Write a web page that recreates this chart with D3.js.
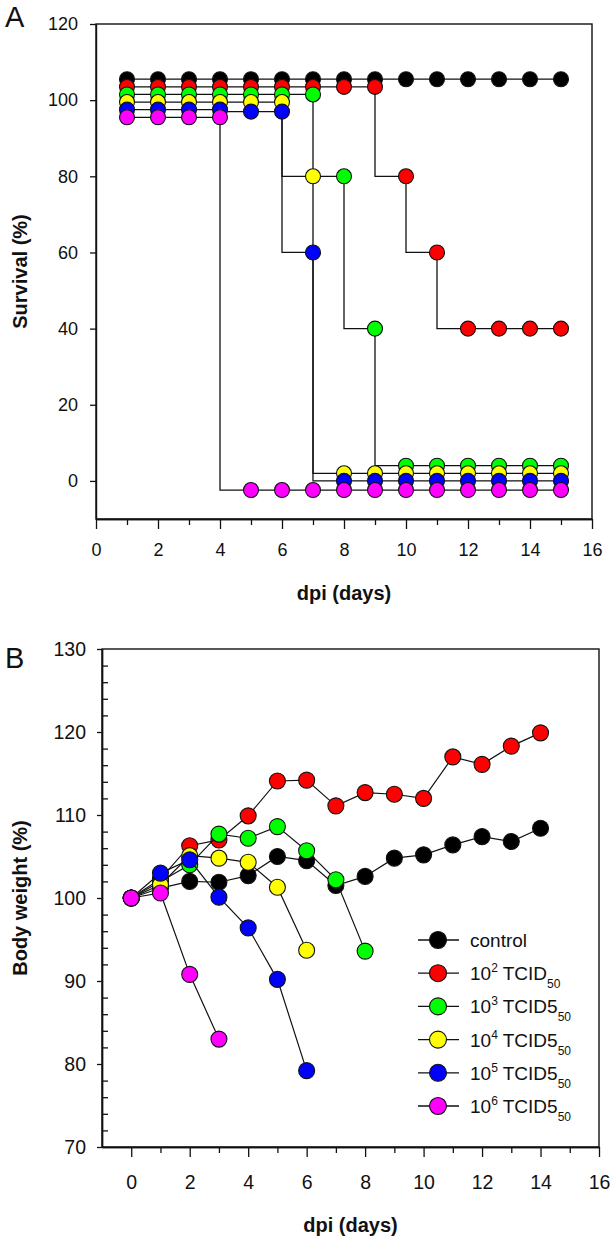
<!DOCTYPE html>
<html><head><meta charset="utf-8">
<script src="https://cdn.jsdelivr.net/npm/d3@7/dist/d3.min.js"></script>
<style>
html,body{margin:0;padding:0;background:#fff;}
svg{display:block;font-family:"Liberation Sans",Arial,sans-serif;}
</style></head>
<body>
<svg id="c" width="612" height="1238"></svg>
<script>
// ---------- data ----------
const seriesNames = ["control","1e2","1e3","1e4","1e5","1e6"];
const seriesColors = ["#000000","#ff0000","#00ff00","#ffff00","#0000ff","#ff00ff"];

// Panel A: survival (%) as plotted (curves vertically offset in the original figure)
const survDays = [1,2,3,4,5,6,7,8,9,10,11,12,13,14,15];
const survControl = [105.5,105.5,105.5,105.5,105.5,105.5,105.5,105.5,105.5,105.5,105.5,105.5,105.5,105.5,105.5];
const surv1e2 = [103.5,103.5,103.5,103.5,103.5,103.5,103.5,103.5,103.5,80,60,40,40,40,40];
const surv1e3 = [101.5,101.5,101.5,101.5,101.5,101.5,101.5,80,40,4,4,4,4,4,4];
const surv1e4 = [99.5,99.5,99.5,99.5,99.5,99.5,80,2,2,2,2,2,2,2,2];
const surv1e5 = [97.5,97.5,97.5,97.5,97,97,60,0,0,0,0,0,0,0,0];
const surv1e6 = [95.5,95.5,95.5,95.5,-2.4,-2.4,-2.4,-2.4,-2.4,-2.4,-2.4,-2.4,-2.4,-2.4,-2.4];

// Panel B: body weight (%)
const bwControlDays = [0,1,2,3,4,5,6,7,8,9,10,11,12,13,14];
const bwControl = [100,101.2,102.0,101.9,102.7,105.0,104.5,101.5,102.6,104.8,105.2,106.4,107.4,106.8,108.4];
const bw1e2Days = [0,1,2,3,4,5,6,7,8,9,10,11,12,13,14];
const bw1e2 = [100,102.3,106.3,107.0,109.9,114.1,114.2,111.1,112.7,112.5,112.0,117.0,116.1,118.3,119.9];
const bw1e3Days = [0,1,2,3,4,5,6,7,8];
const bw1e3 = [100,102.0,104.0,107.7,107.2,108.6,105.7,102.2,93.6];
const bw1e4Days = [0,1,2,3,4,5,6];
const bw1e4 = [100,101.6,105.1,104.8,104.3,101.3,93.7];
const bw1e5Days = [0,1,2,3,4,5,6];
const bw1e5 = [100,103.0,104.6,100.1,96.4,90.2,79.2];
const bw1e6Days = [0,1,2,3];
const bw1e6 = [100,100.6,90.8,83.0];

// legend labels: [base, superscript, main, subscript]
const legendLabels = [
  ["control","","",""],
  ["10","2"," TCID","50"],
  ["10","3"," TCID5","50"],
  ["10","4"," TCID5","50"],
  ["10","5"," TCID5","50"],
  ["10","6"," TCID5","50"]
];

// ticks
const aYTicks = [0,20,40,60,80,100,120];
const aXTicks = [0,2,4,6,8,10,12,14,16];
const aXMinor = [1,3,5,7,9,11,13,15];
const bYTicks = [70,80,90,100,110,120,130];
const bYMinor = [72,74,76,78,82,84,86,88,92,94,96,98,102,104,106,108,112,114,116,118,122,124,126,128];
const bXTicks = [0,2,4,6,8,10,12,14,16];
const bXMinor = [1,3,5,7,9,11,13,15];

// ---------- drawing ----------
const svg = d3.select("#c");
const ink = "#111";

function styleAxis(fs){
  return g=>{
    g.selectAll("path").attr("stroke",ink).attr("stroke-width",1.4);
    g.selectAll("line").attr("stroke",ink).attr("stroke-width",1.3);
    g.selectAll("text").attr("fill",ink).attr("font-size",fs).attr("font-family","Liberation Sans, Arial, sans-serif");
  };
}

// ===== Panel A =====
const xA = d3.scaleLinear().domain([0,16]).range([96,592]);
const yA = d3.scaleLinear().domain([-10,120]).range([519,24]);

svg.append("rect").attr("x",xA(0)).attr("y",yA(120))
  .attr("width",xA(16)-xA(0)).attr("height",yA(-10)-yA(120))
  .attr("fill","none").attr("stroke",ink).attr("stroke-width",1.4);

svg.append("g").attr("transform",`translate(0,${yA(-10)})`)
  .call(d3.axisBottom(xA).tickValues(aXTicks).tickSize(10).tickPadding(14).tickSizeOuter(0))
  .call(styleAxis(18));
svg.append("g").attr("transform",`translate(0,${yA(-10)})`)
  .call(d3.axisBottom(xA).tickValues(aXMinor).tickSize(6).tickFormat("").tickSizeOuter(0))
  .call(styleAxis(18));
svg.append("g").attr("transform",`translate(${xA(0)},0)`)
  .call(d3.axisLeft(yA).tickValues(aYTicks).tickSize(6).tickPadding(12).tickSizeOuter(0))
  .call(styleAxis(18));

const survSeries = [survControl,surv1e2,surv1e3,surv1e4,surv1e5,surv1e6];
const stepLine = d3.line().x(d=>xA(d[0])).y(d=>yA(d[1])).curve(d3.curveStepBefore);
survSeries.forEach((vals,i)=>{
  const pts = survDays.map((d,j)=>[d,vals[j]]);
  const g = svg.append("g");
  g.append("path").attr("d",stepLine(pts)).attr("fill","none").attr("stroke",ink).attr("stroke-width",1.3);
  g.selectAll("circle").data(pts).join("circle")
    .attr("cx",d=>xA(d[0])).attr("cy",d=>yA(d[1])).attr("r",7.5)
    .attr("fill",seriesColors[i]).attr("stroke",ink).attr("stroke-width",1.1);
});

svg.append("text").attr("x",(xA(0)+xA(16))/2).attr("y",600).attr("text-anchor","middle")
  .attr("font-size",20).attr("font-weight","bold").attr("fill",ink).text("dpi (days)");
svg.append("text").attr("transform",`translate(27,${(yA(120)+yA(-10))/2}) rotate(-90)`)
  .attr("text-anchor","middle").attr("font-size",20).attr("font-weight","bold").attr("fill",ink).text("Survival (%)");
svg.append("text").attr("x",5).attr("y",27).attr("font-size",29).attr("fill",ink).text("A");

// ===== Panel B =====
const xB = d3.scaleLinear().domain([-1,16]).range([102,599]);
const yB = d3.scaleLinear().domain([70,130]).range([1147,649]);

svg.append("rect").attr("x",xB(-1)).attr("y",yB(130))
  .attr("width",xB(16)-xB(-1)).attr("height",yB(70)-yB(130))
  .attr("fill","none").attr("stroke",ink).attr("stroke-width",1.4);

svg.append("g").attr("transform",`translate(0,${yB(70)})`)
  .call(d3.axisBottom(xB).tickValues(bXTicks).tickSize(10).tickPadding(18).tickSizeOuter(0))
  .call(styleAxis(19.5));
svg.append("g").attr("transform",`translate(0,${yB(70)})`)
  .call(d3.axisBottom(xB).tickValues(bXMinor).tickSize(6).tickFormat("").tickSizeOuter(0))
  .call(styleAxis(19.5));
svg.append("g").attr("transform",`translate(${xB(-1)},0)`)
  .call(d3.axisLeft(yB).tickValues(bYTicks).tickSize(5).tickPadding(11).tickSizeOuter(0))
  .call(styleAxis(19.5));
svg.append("g").attr("transform",`translate(${xB(-1)},0)`)
  .call(d3.axisLeft(yB).tickValues(bYMinor).tickSize(-6).tickFormat("").tickSizeOuter(0))
  .call(styleAxis(19.5));

const bwSeries = [
  [bwControlDays,bwControl],[bw1e2Days,bw1e2],[bw1e3Days,bw1e3],
  [bw1e4Days,bw1e4],[bw1e5Days,bw1e5],[bw1e6Days,bw1e6]
];
const lineB = d3.line().x(d=>xB(d[0])).y(d=>yB(d[1]));
bwSeries.forEach(([days,vals],i)=>{
  const pts = days.map((d,j)=>[d,vals[j]]);
  const g = svg.append("g");
  g.append("path").attr("d",lineB(pts)).attr("fill","none").attr("stroke",ink).attr("stroke-width",1.2);
  g.selectAll("circle").data(pts).join("circle")
    .attr("cx",d=>xB(d[0])).attr("cy",d=>yB(d[1])).attr("r",8)
    .attr("fill",seriesColors[i]).attr("stroke",ink).attr("stroke-width",1.1);
});

// legend
const legRow = d3.scaleLinear().domain([0,5]).range([940,1106]);
legendLabels.forEach((lab,i)=>{
  const y = legRow(i);
  const g = svg.append("g");
  g.append("line").attr("x1",418).attr("x2",459).attr("y1",y).attr("y2",y).attr("stroke",ink).attr("stroke-width",1.3);
  g.append("circle").attr("cx",438).attr("cy",y).attr("r",8.5).attr("fill",seriesColors[i]).attr("stroke",ink).attr("stroke-width",1.1);
  const t = g.append("text").attr("x",470).attr("y",y+7).attr("font-size",19).attr("fill",ink);
  t.append("tspan").text(lab[0]);
  if(lab[1]){
    t.append("tspan").attr("font-size",12).attr("dy",-8).text(lab[1]);
    t.append("tspan").attr("dy",8).text(lab[2]);
    t.append("tspan").attr("font-size",12).attr("dy",8).text(lab[3]);
  }
});

svg.append("text").attr("x",(xB(-1)+xB(16))/2).attr("y",1232).attr("text-anchor","middle")
  .attr("font-size",20).attr("font-weight","bold").attr("fill",ink).text("dpi (days)");
svg.append("text").attr("transform",`translate(27,${(yB(130)+yB(70))/2}) rotate(-90)`)
  .attr("text-anchor","middle").attr("font-size",20).attr("font-weight","bold").attr("fill",ink).text("Body weight (%)");
svg.append("text").attr("x",5).attr("y",668).attr("font-size",29).attr("fill",ink).text("B");
</script>
</body></html>
